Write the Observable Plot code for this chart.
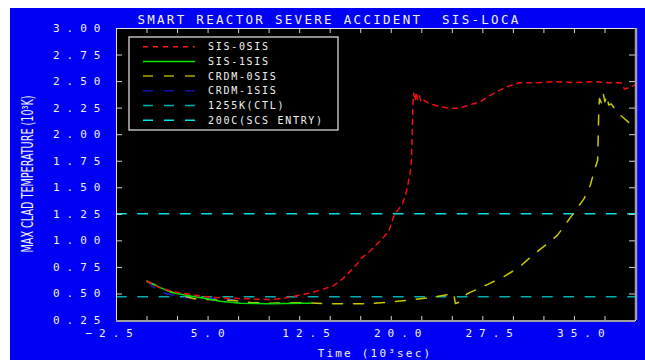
<!DOCTYPE html>
<html>
<head>
<meta charset="utf-8">
<script src="https://cdn.jsdelivr.net/npm/d3@7"></script>
<script src="https://cdn.jsdelivr.net/npm/@observablehq/plot@0.6"></script>
<style>
  html, body { margin: 0; padding: 0; background: #ffffff; }
  #panel { position: absolute; left: 10px; top: 8px; width: 635px; height: 352px; background: #0000f4; overflow: hidden; }
  #panel svg { display: block; }
  #panel svg text { white-space: pre; }
  [aria-label="y-axis tick label"] text { letter-spacing: 7px; }
  [aria-label="x-axis tick label"] text { letter-spacing: 7px; }
</style>
</head>
<body>
<div id="panel"></div>
<script>
// Max clad temperature (10^3 K) against time (10^3 s), pairs of [time, temperature]
const sis0sis = [
  [0, 0.62], [1, 0.56], [2.2, 0.52], [3.3, 0.5], [4.4, 0.48], [5.4, 0.467], [6.6, 0.46],
  [7.9, 0.457], [9, 0.45], [10, 0.448], [11, 0.455], [11.9, 0.476], [12.8, 0.495],
  [13.6, 0.517], [14.3, 0.54], [15.3, 0.58], [16.0, 0.64], [16.7, 0.72], [17.25, 0.79],
  [17.5, 0.832], [18.18, 0.894], [18.73, 0.958], [19.28, 1.02], [19.82, 1.1], [20.18, 1.225],
  [20.56, 1.29], [20.92, 1.35], [21.19, 1.445], [21.33, 1.51], [21.54, 1.634], [21.65, 1.76],
  [21.72, 2.05], [21.78, 2.3], [21.84, 2.39], [21.95, 2.32], [22.05, 2.4], [22.15, 2.33],
  [22.3, 2.37], [22.45, 2.31], [22.6, 2.33], [23.0, 2.3], [23.8, 2.27], [24.7, 2.25],
  [25.6, 2.25], [26.4, 2.28], [27.3, 2.31], [28.1, 2.37], [28.9, 2.42], [29.7, 2.46],
  [30.5, 2.49], [32, 2.49], [33.5, 2.5], [35, 2.49], [36.5, 2.5], [37.8, 2.49], [38.8, 2.49],
  [39.1, 2.43], [39.4, 2.44], [39.8, 2.46], [40, 2.47]
];
const sis1sis = [
  [0, 0.62], [0.8, 0.575], [1.93, 0.517], [3.3, 0.486], [4.93, 0.455], [6.0, 0.432],
  [7.66, 0.413], [9.0, 0.41], [9.85, 0.407], [11.3, 0.41], [12.8, 0.413], [13.4, 0.413]
];
const crdm0sis = [
  [0, 0.62], [1.5, 0.54], [2.7, 0.49], [3.84, 0.455], [5.5, 0.445], [6.84, 0.44], [8.5, 0.42],
  [10.1, 0.413], [11.8, 0.417], [13.0, 0.417], [14.8, 0.407], [16.5, 0.407], [18.1, 0.407],
  [19.96, 0.423], [21.6, 0.445], [23.4, 0.47], [24.9, 0.5], [25.1, 0.51], [25.25, 0.41],
  [25.5, 0.42], [26.2, 0.5], [26.5, 0.517], [27.9, 0.59], [29.25, 0.665], [30.5, 0.753],
  [31.4, 0.847], [32.5, 0.948], [33.6, 1.052], [34.4, 1.177], [35.1, 1.288], [35.8, 1.4],
  [36.3, 1.524], [36.6, 1.65], [36.9, 1.76], [37.0, 2.25], [37.05, 2.34], [37.2, 2.3],
  [37.35, 2.39], [37.5, 2.31], [37.65, 2.37], [37.8, 2.28], [38.0, 2.29], [38.4, 2.23],
  [38.8, 2.18], [39.4, 2.12], [39.8, 2.07]
];
const crdm1sis = [
  [0, 0.62], [0.83, 0.533], [1.38, 0.51], [2.75, 0.47], [4.4, 0.455], [6.0, 0.46],
  [7.4, 0.44], [8.0, 0.44]
];

// Reference temperature levels (10^3 K)
const levelNames = ["1255K(CTL)", "200C(SCS ENTRY)"];
const levelValues = [1.255, 0.473];

// Axis ticks
const xTicks = [-2.5, 0, 2.5, 5, 7.5, 10, 12.5, 15, 17.5, 20, 22.5, 25, 27.5, 30, 32.5, 35, 37.5, 40];
const xTickLabels = [-2.5, 5.0, 12.5, 20.0, 27.5, 35.0];
const yTicks = [0.25, 0.5, 0.75, 1.0, 1.25, 1.5, 1.75, 2.0, 2.25, 2.5, 2.75, 3.0];

const titleText = "SMART REACTOR SEVERE ACCIDENT  SIS-LOCA";
const xLabelText = "Time (10³sec)";
const yLabelText = "MAX CLAD TEMPERATURE (10³K)";

const series = [
  {name: "SIS-0SIS", data: sis0sis, color: "#ee1010", legendColor: "#ff1a1a", dash: "5,5"},
  {name: "SIS-1SIS", data: sis1sis, color: "#00e000", legendColor: "#00ee00", dash: null},
  {name: "CRDM-0SIS", data: crdm0sis, color: "#c8c800", legendColor: "#a8a800", dash: "10,11"},
  {name: "CRDM-1SIS", data: crdm1sis, color: "#1818d8", legendColor: "#1010b0", dash: "10,11"}
];
const levelColors = ["#00e0e0", "#00b0b0"];
const levelLegendColors = ["#00b0b0", "#00e4e4"];

const W = 635, H = 352;
const M = {left: 106, right: 10, top: 20, bottom: 40};

const tickStroke = "#d4d4d4";
const chart = Plot.plot({
  width: W,
  height: H,
  marginLeft: M.left,
  marginRight: M.right,
  marginTop: M.top,
  marginBottom: M.bottom,
  style: {background: "transparent", color: "#f2f2f2", fontFamily: "'DejaVu Sans Mono', monospace", fontSize: "11px"},
  x: {domain: [-2.5, 40]},
  y: {domain: [0.25, 3.0]},
  marks: [
    Plot.frame({fill: "black", stroke: null}),
    Plot.ruleY(levelValues, {y: d => d, stroke: (d, i) => levelColors[i], strokeWidth: 1.6, strokeDasharray: "10.7,10.6"}),
    ...series.slice().reverse().map(s =>
      Plot.line(s.data, {x: d => d[0], y: d => d[1], stroke: s.color, strokeWidth: 1.5, strokeDasharray: s.dash})
    ),
    Plot.axisX({anchor: "bottom", ticks: xTicks, tickSize: -4, tickFormat: () => "", stroke: tickStroke, label: null}),
    Plot.axisX({anchor: "top", ticks: xTicks, tickSize: -4, tickFormat: () => "", stroke: tickStroke, label: null}),
    Plot.axisX({
      anchor: "bottom", ticks: xTickLabels, tickSize: 0, tickPadding: 9, label: null,
      textAnchor: "start", dx: -31,
      tickFormat: d => (d < 0 ? "\u2212" : " ") + Math.abs(d).toFixed(1)
    }),
    Plot.axisY({anchor: "left", ticks: yTicks, tickSize: -6, tickFormat: () => "", stroke: tickStroke, label: null}),
    Plot.axisY({anchor: "right", ticks: yTicks, tickSize: -7, tickFormat: () => "", stroke: tickStroke, label: null}),
    Plot.axisY({anchor: "left", ticks: yTicks, tickSize: 0, tickPadding: 9, label: null, tickFormat: d => d.toFixed(2)}),
    Plot.frame({stroke: "#e4e4e4", strokeWidth: 1}),
    Plot.ruleX([40], {stroke: "#a0a0a0", strokeWidth: 2.5, dx: 0.5}),
    Plot.ruleY([0.25], {stroke: "#a0a0a0", strokeWidth: 2, dy: 0.5})
  ]
});

document.getElementById("panel").appendChild(chart);

const svg = d3.select(chart);
const textColor = "#f2f2f2";

// Title
svg.append("text")
  .attr("x", 319).attr("y", 16)
  .attr("text-anchor", "middle")
  .attr("fill", textColor)
  .style("font-family", "'DejaVu Sans Mono', monospace")
  .style("font-size", "12.5px")
  .style("letter-spacing", "2.3px")
  .text(titleText);

// x-axis title
svg.append("text")
  .attr("x", 365).attr("y", 349)
  .attr("text-anchor", "middle")
  .attr("fill", textColor)
  .style("font-family", "'DejaVu Sans Mono', monospace")
  .style("font-size", "11px")
  .style("letter-spacing", "2.2px")
  .text(xLabelText);

// y-axis title, condensed lettering
svg.append("text")
  .attr("transform", `translate(23,${M.top + (H - M.top - M.bottom) / 2}) rotate(-90)`)
  .attr("text-anchor", "middle")
  .attr("fill", textColor)
  .attr("textLength", 157)
  .attr("lengthAdjust", "spacingAndGlyphs")
  .style("font-family", "'DejaVu Sans Condensed', 'DejaVu Sans', sans-serif")
  .style("font-size", "16px")
  .text(yLabelText);

// Legend box inside the upper-left of the plot frame
const legendRows = [
  ...series.map(s => ({name: s.name, color: s.legendColor, dash: s.dash})),
  ...levelNames.map((n, i) => ({name: n, color: levelLegendColors[i], dash: "10,11"}))
];
const lg = svg.append("g").attr("transform", `translate(${M.left + 13},${M.top + 9})`);
lg.append("rect")
  .attr("width", 209).attr("height", 93)
  .attr("fill", "black")
  .attr("stroke", "#d8d8d8")
  .attr("stroke-width", 1.3);
const row = lg.selectAll("g.row").data(legendRows).join("g")
  .attr("class", "row")
  .attr("transform", (d, i) => `translate(0,${9.7 + i * 14.7})`);
row.append("line")
  .attr("x1", 14).attr("x2", 66)
  .attr("stroke", d => d.color)
  .attr("stroke-width", 1.5)
  .attr("stroke-dasharray", d => d.dash);
row.append("text")
  .attr("x", 79).attr("dy", "0.36em")
  .attr("text-anchor", "start")
  .attr("fill", textColor)
  .style("font-family", "'DejaVu Sans Mono', monospace")
  .style("font-size", "10px")
  .style("letter-spacing", "1.7px")
  .text(d => d.name);
</script>
</body>
</html>
